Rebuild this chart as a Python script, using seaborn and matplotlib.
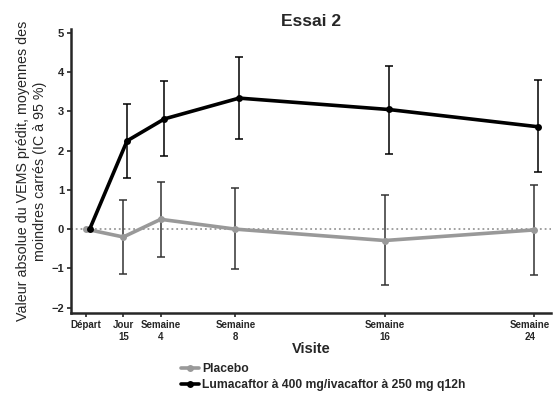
import matplotlib
matplotlib.use('agg')

import matplotlib.pyplot as plt
import matplotlib.transforms as mtransforms
import pandas as pd
import seaborn as sns

# Data (weeks since baseline)
weeks = [0, 2, 4, 8, 16, 24]
tick_labels = ['Départ', 'Jour\n15', 'Semaine\n4', 'Semaine\n8', 'Semaine\n16', 'Semaine\n24']

placebo_mean = [0.0, -0.20, 0.25, 0.0, -0.29, -0.02]
placebo_low = [None, -1.15, -0.71, -1.02, -1.42, -1.17]
placebo_high = [None, 0.75, 1.21, 1.05, 0.86, 1.13]

luma_mean = [0.0, 2.25, 2.81, 3.34, 3.05, 2.61]
luma_low = [None, 1.31, 1.86, 2.31, 1.91, 1.46]
luma_high = [None, 3.19, 3.78, 4.38, 4.17, 3.79]

labels = ['Placebo', 'Lumacaftor à 400 mg/ivacaftor à 250 mg q12h']
offset = 0.2  # small horizontal dodge for the active arm

sns.set_style('ticks')
plt.rcParams['font.family'] = ['Liberation Sans', 'DejaVu Sans']

df = pd.concat([
    pd.DataFrame({'Semaine': weeks, 'val': placebo_mean, 'Groupe': labels[0]}),
    pd.DataFrame({'Semaine': [w + offset for w in weeks], 'val': luma_mean, 'Groupe': labels[1]}),
])

fig = plt.figure(figsize=(5.53, 3.95), dpi=100)
ax = fig.add_axes([0.1284, 0.2084, 0.868, 0.718])

ax.axhline(0, color='#999999', linestyle=':', linewidth=1.3, zorder=1)

palette = {labels[0]: '#999999', labels[1]: '#000000'}
sns.lineplot(data=df, x='Semaine', y='val', hue='Groupe', palette=palette,
             marker='o', markersize=5, markeredgewidth=0, linewidth=2.6,
             ax=ax, legend=True, zorder=3)

# error bars
for xs, m, lo, hi, col in [(weeks, placebo_mean, placebo_low, placebo_high, '#333333'),
                           ([w + offset for w in weeks], luma_mean, luma_low, luma_high, '#000000')]:
    err = [[a - b for a, b in zip(m[1:], lo[1:])], [b - a for a, b in zip(m[1:], hi[1:])]]
    ax.errorbar(xs[1:], m[1:], yerr=err, fmt='none', ecolor=col, elinewidth=1.1,
                capsize=3, capthick=1.1, zorder=2)

ax.set_xlim(-0.8, 24.9)
ax.set_ylim(-2.13, 5.1)
ax.set_yticks(range(-2, 6))
ax.set_xticks(weeks)
ax.set_xticklabels(tick_labels, fontsize=7, fontweight='bold', linespacing=1.25)
for t in ax.get_yticklabels():
    t.set_fontsize(8)
    t.set_fontweight('bold')
ax.tick_params(axis='both', length=3, width=1.2, pad=2)
# keep the last label inside the figure
last = ax.get_xticklabels()[-1]
last.set_transform(last.get_transform() + mtransforms.ScaledTranslation(-4 / 100, 0, fig.dpi_scale_trans))

sns.despine(ax=ax)
for s in ['left', 'bottom']:
    ax.spines[s].set_linewidth(1.8)

ax.set_title('Essai 2', fontsize=12.5, fontweight='bold', pad=0)
ax.set_xlabel('Visite', fontsize=10.5, fontweight='bold', labelpad=0)
ax.set_ylabel('Valeur absolue du VEMS prédit, moyennes des\nmoindres carrés (IC à 95 %)',
              fontsize=10.3, labelpad=3, linespacing=1.3)

h, l = ax.get_legend_handles_labels()
ax.get_legend().remove()
fig.legend(h, l, loc='upper left', bbox_to_anchor=(0.318, 0.093), frameon=False,
           prop={'size': 8.7, 'weight': 'bold'}, handlelength=1.5, handletextpad=0.25,
           labelspacing=0.35, borderaxespad=0)

plt.savefig('out.png', dpi=100)
plt.close()
